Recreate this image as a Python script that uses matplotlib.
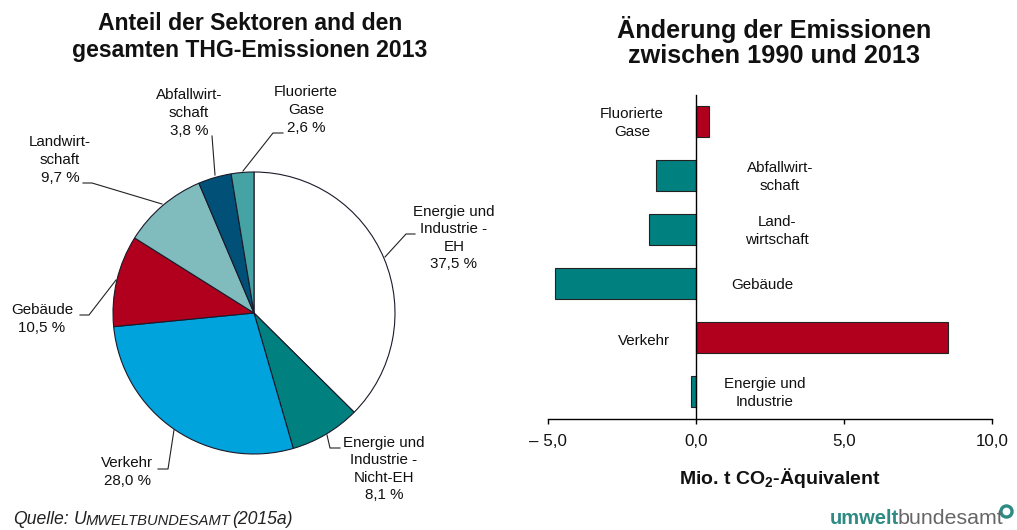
import matplotlib
matplotlib.use('Agg')
import matplotlib.pyplot as plt

plt.rcParams['font.family'] = ['Liberation Sans', 'DejaVu Sans']
plt.rcParams['mathtext.fontset'] = 'custom'
plt.rcParams['mathtext.bf'] = 'Liberation Sans:bold'
plt.rcParams['mathtext.rm'] = 'Liberation Sans'

W = 1017
H = 530
my_dpi = 100

# pie data
pieShares = [37.5, 8.1, 28.0, 10.5, 9.7, 3.8, 2.6]
pieColors = ['#FFFFFF', '#00807F', '#00A3DC', '#B0001E', '#80BBBD', '#005078', '#45A3A3']
pieLabels = ['Energie und\nIndustrie -\nEH\n37,5 %', 'Energie und\nIndustrie -\nNicht-EH\n8,1 %',
             'Verkehr\n28,0 %', 'Gebäude\n10,5 %', 'Landwirt-\nschaft\n9,7 %',
             'Abfallwirt-\nschaft\n3,8 %', 'Fluorierte\nGase\n2,6 %']
pieLabelPos = [(454, 238), (384, 469), (127, 472), (42, 319), (60, 160), (189, 113), (306, 110)]
leaders = [[(385, 257), (406, 234), (415, 234)],
           [(327, 435), (330, 448), (340, 448)],
           [(174, 430), (168, 469), (158, 469)],
           [(116, 280), (89, 315), (80, 315)],
           [(162, 204), (92, 183), (83, 183)],
           [(215, 175), (212, 136)],
           [(243, 171), (273, 133), (283, 133)]]

# bar data, bottom to top
barCats = ['Energie und\nIndustrie', 'Verkehr', 'Gebäude', 'Land-\nwirtschaft', 'Abfallwirt-\nschaft', 'Fluorierte\nGase']
barValues = [-0.17, 8.5, -4.75, -1.6, -1.35, 0.44]
barColors = ['#00807F', '#B0001E', '#00807F', '#00807F', '#00807F', '#B0001E']
barLabelPos = [(765, 393), (644, 341), (762, 285), (777, 231), (780, 177), (632, 123)]
xTicks = [-5, 0, 5, 10]
xTickLabels = ['– 5,0', '0,0', '5,0', '10,0']


def box(left, top, right, bottom):
    return [left/W, 1-bottom/H, (right-left)/W, (bottom-top)/H]


figure = plt.figure(figsize=(W/my_dpi, H/my_dpi), dpi=my_dpi)

# pie
axPie = figure.add_axes(box(113, 172, 395, 454))
axPie.pie(pieShares, colors=pieColors, startangle=90, counterclock=False, radius=1,
          wedgeprops={'edgecolor': '#1a1a2a', 'linewidth': 0.8})
axPie.set_xlim(-1, 1)
axPie.set_ylim(-1, 1)

# bars
axBar = figure.add_axes(box(548, 95, 992, 419))
axBar.barh(range(6), barValues, height=31/54, color=barColors, edgecolor='#222222', linewidth=0.8)
axBar.set_xlim(-5, 10)
axBar.set_ylim(-0.51, 5.49)
axBar.set_xticks(xTicks)
axBar.set_xticklabels(xTickLabels, fontsize=12.2)
axBar.set_yticks([])
axBar.spines['top'].set_visible(False)
axBar.spines['right'].set_visible(False)
axBar.spines['left'].set_position(('data', 0))
axBar.spines['left'].set_linewidth(1.0)
axBar.spines['bottom'].set_linewidth(1.0)
axBar.tick_params(axis='x', direction='out', length=3.5, width=1.0, pad=7)
for lab in axBar.get_xticklabels():
    lab.set_color('#111111')

# overlay in pixel coordinates for labels
over = figure.add_axes([0, 0, 1, 1], facecolor='none')
over.set_xlim(0, W)
over.set_ylim(H, 0)
over.axis('off')

for label, (px, py), pts in zip(pieLabels, pieLabelPos, leaders):
    over.text(px, py, label, ha='center', va='center', fontsize=10.9, linespacing=1.32, color='#111111')
    over.plot([p[0] for p in pts], [p[1] for p in pts], color='#222222', lw=0.8)

for label, (px, py) in zip(barCats, barLabelPos):
    over.text(px, py, label, ha='center', va='center', fontsize=10.9, linespacing=1.32, color='#111111')

over.text(250, 37, 'Anteil der Sektoren and den\ngesamten THG-Emissionen 2013', ha='center', va='center',
          fontsize=16.6, fontweight='bold', linespacing=1.2, color='#111111')
over.text(774, 42, 'Änderung der Emissionen\nzwischen 1990 und 2013', ha='center', va='center',
          fontsize=18.2, fontweight='bold', linespacing=1.05, color='#111111')
over.text(780, 478, r'Mio. t CO$_\mathbf{2}$-Äquivalent', ha='center', va='center',
          fontsize=14, fontweight='bold', color='#111111')

# source line with small caps
over.text(13, 520, 'Quelle:', ha='left', va='center', fontsize=12.7, style='italic', color='#222222')
over.text(74, 520, 'U', ha='left', va='center', fontsize=12.7, style='italic', color='#222222')
over.text(86, 521, 'MWELTBUNDESAMT', ha='left', va='center', fontsize=10.6, style='italic', color='#222222')
over.text(232, 520, '(2015a)', ha='left', va='center', fontsize=12.7, style='italic', color='#222222')

# logo
over.text(830, 519, 'umwelt', ha='left', va='center', fontsize=14.5, fontweight='bold', color='#2E8B84')
over.text(898, 519, 'bundesamt', ha='left', va='center', fontsize=15.4, color='#666666')
over.plot([1006], [511], marker='o', ms=8, mfc='white', mec='#2E8B84', mew=2.4)

figure.savefig('out.png', dpi=my_dpi)
